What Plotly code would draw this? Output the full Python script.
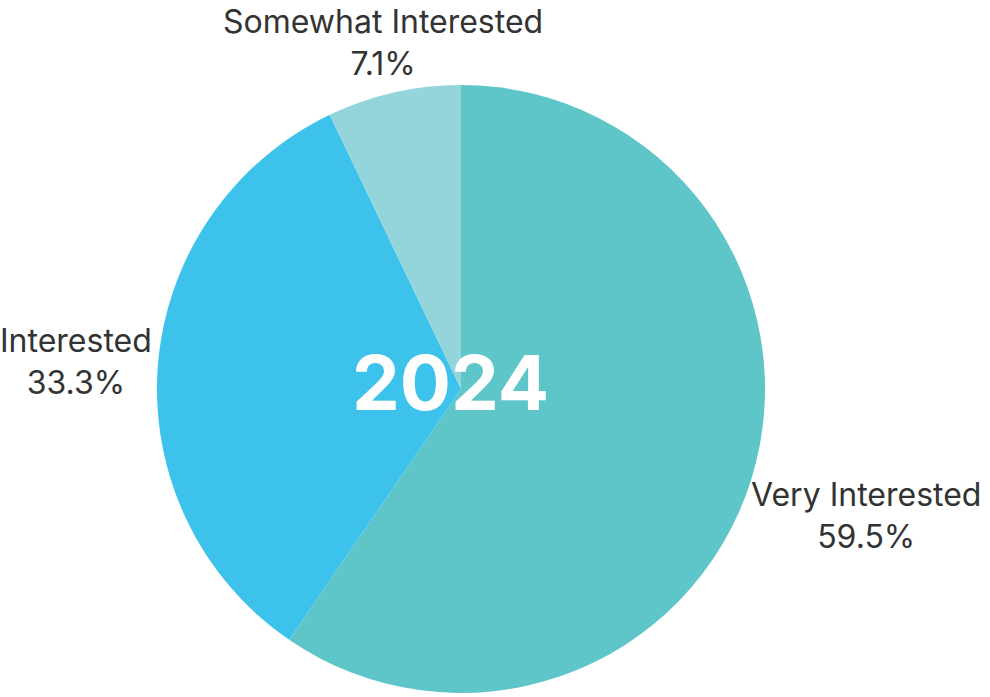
import plotly.graph_objects as go

categories = ["Very Interested", "Interested", "Somewhat Interested"]
values = [59.5, 33.3, 7.1]
colors = ["#5EC6C9", "#3DC3EB", "#94D5DB"]
center_label = "2024"

# label anchor positions (pixels) for annotations
label_pos = {"Very Interested": (866, 515), "Interested": (76, 361), "Somewhat Interested": (383, 42)}

W, H = 990, 697
cx, cy, r = 461, 389, 304

fig = go.Figure(go.Pie(
    labels=categories, values=values, sort=False, direction="clockwise", rotation=0,
    marker=dict(colors=colors, line=dict(width=0)),
    textinfo="none", hoverinfo="label+percent", showlegend=False,
    domain=dict(x=[(cx - r) / W, (cx + r) / W], y=[(H - cy - r) / H, (H - cy + r) / H]),
))

annotations = []
for cat, v in zip(categories, values):
    px, py = label_pos[cat]
    annotations.append(dict(
        x=px / W, y=(H - py) / H, xref="paper", yref="paper",
        text=f"{cat}<br>{v:.1f}%", showarrow=False, align="center",
        xanchor="center", yanchor="middle",
        font=dict(family="Inter", size=32, color="#333333"),
    ))
annotations.append(dict(
    x=450 / W, y=(H - 382) / H, xref="paper", yref="paper", text=f"<b>{center_label}</b>",
    showarrow=False, xanchor="center", yanchor="middle",
    font=dict(family="Inter", size=76, color="white"),
))

fig.update_layout(
    width=W, height=H, margin=dict(l=0, r=0, t=0, b=0),
    paper_bgcolor="white", plot_bgcolor="white", annotations=annotations,
)
fig.write_html("out.html")
